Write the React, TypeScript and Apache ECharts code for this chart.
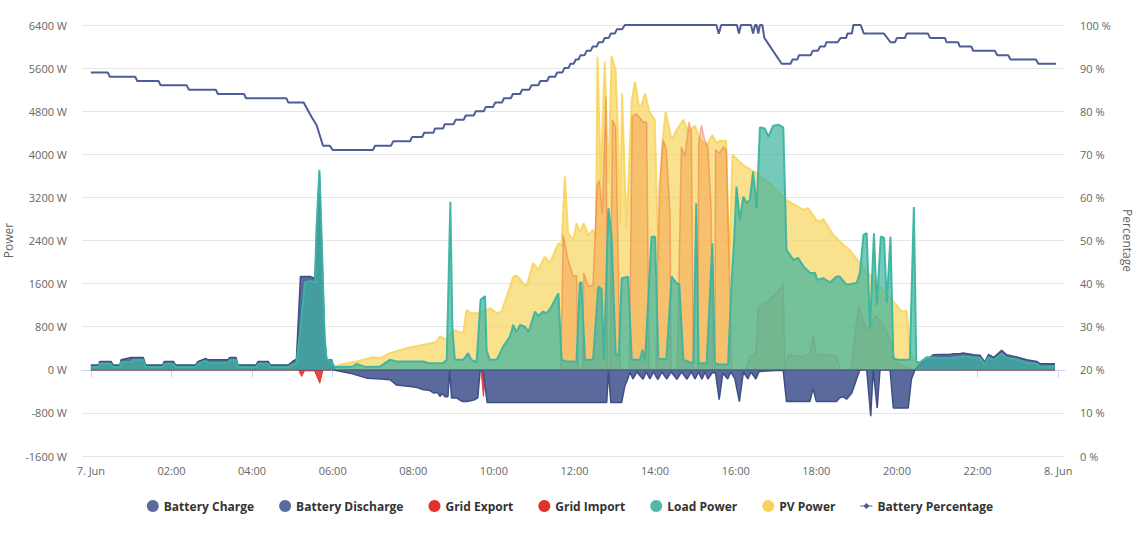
import React, { useEffect, useRef } from "react";
import * as echarts from "echarts";

type P = [number, number];

// x values are hours after 7. Jun 00:00
const xTickHours: number[] = [0, 2, 4, 6, 8, 10, 12, 14, 16, 18, 20, 22, 24];

const batteryDischarge: P[] = [
  [0, 90], [0.2, 90], [0.22, 155], [0.5, 155], [0.55, 90], [0.72, 90], [0.75, 185], [1.0, 230], [1.3, 230],
  [1.36, 90], [1.78, 90], [1.82, 155], [2.05, 155], [2.1, 90], [2.6, 90], [2.65, 150], [2.85, 210], [2.9, 185],
  [3.4, 185], [3.45, 230], [3.6, 230], [3.65, 90], [4.1, 90], [4.15, 155], [4.4, 155], [4.45, 90], [4.9, 90],
  [5.0, 155], [5.1, 200], [5.2, 1730], [5.45, 1730], [5.56, 1700], [5.67, 3650], [5.8, 600], [5.85, 185],
  [5.97, 185], [6.05, 0], [20.45, 0], [20.57, 110], [20.74, 185], [20.9, 280], [21.07, 285], [21.32, 285],
  [21.4, 300], [21.56, 300], [21.64, 310], [21.9, 280], [22.06, 270], [22.18, 140], [22.27, 285], [22.4, 230],
  [22.6, 360], [22.72, 280], [22.97, 240], [23.22, 185], [23.47, 155], [23.55, 110], [23.92, 110],
];

const batteryCharge: P[] = [
  [0, 0], [6.0, 0], [6.43, -62], [6.84, -155], [7.2, -170], [7.42, -185], [7.58, -280], [7.92, -310], [8.1, -330],
  [8.25, -370], [8.4, -380], [8.5, -430], [8.6, -420], [8.66, -495], [8.72, -440], [8.79, -500], [8.86, -500],
  [8.9, 0], [8.95, -525], [9.08, -525], [9.15, -560], [9.23, -590], [9.33, -590], [9.5, -560], [9.6, -520],
  [9.66, 0], [9.74, -40], [9.83, -605], [12.8, -605], [12.84, -20], [12.9, -605], [13.17, -605], [13.25, -300],
  [13.33, -150], [13.38, -40], [13.45, -170], [13.55, -40], [13.7, -175], [13.78, -40], [13.87, -170],
  [13.96, -40], [14.07, -180], [14.17, -40], [14.29, -170], [14.4, -40], [14.54, -175], [14.66, -40],
  [14.79, -175], [14.9, -40], [14.99, -170], [15.08, -40], [15.16, -175], [15.24, -40], [15.31, -170],
  [15.42, -50], [15.5, -60], [15.59, -555], [15.68, -60], [15.8, -170], [15.88, -40], [15.98, -170],
  [16.09, -590], [16.19, -40], [16.3, -170], [16.38, -40], [16.5, -170], [16.58, -30], [17.1, -10],
  [17.18, -20], [17.26, -590], [17.84, -590], [17.92, -350], [18.0, -590], [18.5, -590], [18.58, -520],
  [18.66, -500], [18.75, -545], [18.88, -430], [19.0, -170], [19.08, 0], [19.25, 0], [19.35, -860], [19.41, 0],
  [19.51, -710], [19.58, 0], [19.83, 0], [19.91, -710], [20.28, -710], [20.36, -170], [20.45, 0], [23.92, 0],
];

const gridExport: P[] = [
  [0, 0], [11.66, 0], [11.72, 2505], [11.84, 2040], [11.97, 1730], [12.05, 1750], [12.09, 0], [12.2, 0],
  [12.23, 1795], [12.34, 1545], [12.46, 1580], [12.56, 3430], [12.62, 3520], [12.69, 2900], [12.78, 5070],
  [12.82, 0], [12.88, 0], [12.94, 4640], [13.02, 4510], [13.08, 2300], [13.13, 0], [13.36, 0], [13.43, 4700],
  [13.52, 4750], [13.6, 4700], [13.7, 4600], [13.79, 4600], [13.85, 0], [14.02, 0], [14.1, 3400], [14.2, 4270],
  [14.28, 4080], [14.37, 2905], [14.4, 0], [14.55, 0], [14.65, 4140], [14.74, 3960], [14.82, 4450],
  [14.84, 4600], [14.9, 4400], [14.95, 0], [15.06, 0], [15.08, 4200], [15.15, 4540], [15.23, 4270],
  [15.31, 4140], [15.39, 3000], [15.43, 0], [15.48, 0], [15.5, 4080], [15.6, 4020], [15.69, 4140],
  [15.77, 4080], [15.84, 1920], [15.9, 0], [16.25, 0], [16.35, 250], [16.5, 300], [16.56, 1175], [16.76, 1250],
  [17.01, 1420], [17.18, 1580], [17.22, 0], [17.3, 280], [17.6, 250], [17.85, 300], [17.93, 650], [18.0, 280],
  [18.3, 280], [18.5, 250], [18.6, 0], [18.85, 0], [18.95, 600], [19.05, 1175], [19.17, 900], [19.3, 700],
  [19.45, 1000], [19.6, 900], [19.75, 700], [19.85, 500], [19.95, 150], [20.2, 50], [20.4, 0], [23.92, 0],
];

const gridImport: P[] = [
  [0, 0], [5.15, 0], [5.23, -125], [5.3, -20], [5.55, -20], [5.68, -250], [5.76, 0], [9.68, 0], [9.74, -495],
  [9.8, 0], [23.92, 0],
];

const loadPower: P[] = [
  [0, 50], [0.2, 50], [0.22, 110], [0.5, 110], [0.55, 50], [0.72, 50], [0.75, 140], [1.0, 150], [1.05, 180],
  [1.3, 180], [1.36, 50], [1.78, 50], [1.82, 110], [2.05, 110], [2.1, 50], [2.6, 50], [2.65, 110], [2.85, 170],
  [2.9, 130], [3.4, 130], [3.45, 180], [3.6, 180], [3.65, 50], [4.1, 50], [4.15, 110], [4.4, 110], [4.45, 50],
  [4.9, 50], [5.0, 90], [5.1, 120], [5.19, 680], [5.31, 1620], [5.45, 1650], [5.56, 1620], [5.6, 2660],
  [5.67, 3710], [5.72, 2600], [5.8, 600], [5.85, 185], [5.93, 185], [6.05, 50], [6.5, 60], [6.59, 110],
  [6.84, 50], [7.17, 60], [7.42, 185], [7.58, 155], [8.25, 155], [8.41, 120], [8.74, 125], [8.83, 185],
  [8.92, 3120], [8.97, 780], [9.03, 185], [9.24, 185], [9.36, 310], [9.44, 185], [9.57, 140], [9.67, 1300],
  [9.78, 1370], [9.82, 350], [9.9, 185], [10.07, 185], [10.23, 430], [10.4, 620], [10.48, 835], [10.56, 700],
  [10.65, 835], [10.77, 800], [10.86, 705], [11.02, 1080], [11.1, 1000], [11.22, 1080], [11.31, 1050],
  [11.43, 1175], [11.6, 1420], [11.68, 185], [11.8, 155], [12.05, 155], [12.13, 1610], [12.17, 1630],
  [12.26, 185], [12.46, 185], [12.59, 1545], [12.67, 1500], [12.73, 185], [12.84, 3000], [12.92, 2470],
  [13.02, 310], [13.1, 250], [13.17, 1700], [13.33, 1730], [13.42, 185], [13.62, 185], [13.69, 370],
  [13.75, 160], [13.91, 2470], [14.0, 2470], [14.08, 200], [14.28, 200], [14.41, 1730], [14.53, 1610],
  [14.6, 1580], [14.7, 185], [14.95, 120], [15.02, 3090], [15.08, 120], [15.28, 120], [15.42, 2350],
  [15.48, 120], [15.6, 100], [15.81, 100], [15.9, 1670], [15.96, 2410], [16.02, 3400], [16.1, 2780],
  [16.19, 3215], [16.27, 3100], [16.35, 3150], [16.43, 3680], [16.48, 3300], [16.52, 3000], [16.6, 4500],
  [16.72, 4480], [16.81, 4330], [16.93, 4530], [17.06, 4550], [17.18, 4500], [17.26, 2225], [17.43, 2040],
  [17.55, 2075], [17.68, 1920], [17.85, 1795], [17.97, 1795], [18.02, 1670], [18.18, 1700], [18.34, 1620],
  [18.5, 1730], [18.58, 1730], [18.75, 1580], [19.0, 1610], [19.08, 1795], [19.17, 2505], [19.25, 2535],
  [19.33, 770], [19.43, 2535], [19.5, 1205], [19.6, 2475], [19.68, 2450], [19.75, 1240], [19.84, 2475],
  [19.91, 215], [20.03, 185], [20.32, 185], [20.42, 3020], [20.48, 150], [20.57, 135], [20.74, 235],
  [20.9, 230], [21.07, 215], [21.32, 220], [21.56, 240], [21.64, 250], [21.9, 230], [22.06, 220],
  [22.18, 100], [22.27, 230], [22.4, 180], [22.6, 300], [22.72, 220], [22.97, 190], [23.22, 130],
  [23.47, 110], [23.55, 60], [23.92, 60],
];

const pvPower: P[] = [
  [0, 0], [5.9, 0], [6.0, 50], [6.26, 110], [6.59, 155], [7.0, 235], [7.17, 215], [7.42, 310], [7.83, 400],
  [8.0, 430], [8.25, 465], [8.41, 490], [8.58, 525], [8.66, 620], [8.83, 560], [8.99, 740], [9.24, 680],
  [9.32, 1110], [9.44, 1050], [9.57, 1050], [9.82, 1110], [9.9, 1145], [10.07, 1050], [10.19, 1080],
  [10.36, 1450], [10.48, 1730], [10.56, 1750], [10.81, 1545], [10.97, 1980], [11.1, 1860], [11.26, 2100],
  [11.39, 1980], [11.6, 2350], [11.68, 2300], [11.76, 3585], [11.84, 2535], [11.97, 2410], [12.05, 2720],
  [12.13, 2560], [12.23, 2720], [12.34, 2500], [12.46, 2595], [12.53, 2450], [12.57, 5810], [12.65, 3520],
  [12.75, 5720], [12.84, 3460], [12.92, 5825], [13.02, 5565], [13.08, 4400], [13.13, 2720], [13.18, 5130],
  [13.29, 2600], [13.42, 5000], [13.5, 5350], [13.6, 4880], [13.66, 4900], [13.75, 5130], [13.86, 4790],
  [13.99, 4640], [14.08, 2040], [14.17, 4100], [14.26, 4790], [14.41, 4270], [14.53, 4450], [14.7, 4640],
  [14.82, 4430], [14.99, 4530], [15.11, 4270], [15.28, 4170], [15.42, 4360], [15.52, 4200], [15.6, 4250],
  [15.76, 4250], [15.84, 1920], [15.92, 3990], [16.18, 3800], [16.52, 3650], [16.85, 3460], [17.26, 3150],
  [17.68, 2970], [17.8, 3000], [18.0, 2780], [18.09, 2750], [18.17, 2800], [18.42, 2500], [18.67, 2320],
  [18.83, 2225], [19.08, 1980], [19.5, 1610], [19.91, 1270], [20.12, 1080], [20.24, 1100], [20.32, 430],
  [20.37, 215], [20.5, 120], [20.8, 70], [21.2, 30], [21.6, 10], [22, 0], [23.92, 0],
];

const batteryPercentage: P[] = [
  [0, 89], [0.42, 89], [0.47, 88], [1.1, 88], [1.15, 87], [1.68, 87], [1.73, 86], [2.38, 86], [2.43, 85],
  [3.1, 85], [3.15, 84], [3.8, 84], [3.85, 83], [4.85, 83], [4.9, 82], [5.28, 82], [5.48, 78.6], [5.6, 76.8],
  [5.76, 72], [5.93, 72], [6.0, 71], [7.0, 71], [7.05, 72], [7.45, 72], [7.5, 73], [7.92, 73], [7.97, 74],
  [8.22, 74], [8.27, 75], [8.5, 75], [8.54, 76], [8.74, 76], [8.78, 77], [9.0, 77], [9.05, 78], [9.25, 78],
  [9.3, 79], [9.5, 79], [9.55, 80], [9.75, 80], [9.8, 81], [9.98, 81], [10.03, 82], [10.2, 82], [10.25, 83],
  [10.42, 83], [10.47, 84], [10.65, 84], [10.7, 85], [10.88, 85], [10.93, 86], [11.1, 86], [11.15, 87],
  [11.32, 87], [11.37, 88], [11.52, 88], [11.57, 89], [11.7, 89], [11.75, 90], [11.85, 90], [11.9, 91],
  [11.98, 91], [12.03, 92], [12.1, 92], [12.15, 93], [12.25, 93], [12.3, 94], [12.4, 94], [12.45, 95],
  [12.55, 95], [12.6, 96], [12.7, 96], [12.75, 97], [12.85, 97], [12.9, 98], [13.0, 98], [13.05, 99],
  [13.18, 99], [13.25, 100], [15.52, 100], [15.58, 98], [15.64, 100], [16.03, 100], [16.08, 98], [16.13, 100],
  [16.38, 100], [16.43, 98], [16.48, 100], [16.52, 100], [16.56, 98], [16.6, 100], [16.66, 100], [16.71, 97],
  [17.14, 91], [17.36, 91], [17.41, 92], [17.53, 92], [17.57, 93], [17.86, 93], [17.91, 94], [18.04, 94],
  [18.09, 95], [18.21, 95], [18.25, 96], [18.53, 96], [18.6, 97], [18.74, 97], [18.77, 98], [18.88, 98],
  [18.92, 100], [19.1, 100], [19.18, 98], [19.68, 98], [19.84, 96], [19.95, 96], [20.0, 97], [20.2, 97],
  [20.24, 98], [20.77, 98], [20.82, 97], [21.19, 97], [21.23, 96], [21.52, 96], [21.56, 95], [21.85, 95],
  [21.89, 94], [22.43, 94], [22.49, 93], [22.76, 93], [22.82, 92], [23.45, 92], [23.51, 91], [23.95, 91],
];

const FONT = "'Open Sans', 'Noto Sans', sans-serif";
const LINE_ICON =
  "path://M0,3.4 L4.6,3.4 L8,0 L11.4,3.4 L16,3.4 L16,4.6 L11.4,4.6 L8,8 L4.6,4.6 L0,4.6 Z";

function pad(n: number) {
  return n < 10 ? "0" + n : "" + n;
}

export default function App() {
  const ref = useRef<HTMLDivElement>(null);

  useEffect(() => {
    document.body.style.margin = "0";
    if (!ref.current) return;
    const chart = echarts.init(ref.current, undefined, { renderer: "svg" });

    const areaSeries = (
      name: string,
      data: P[],
      color: string,
      lineColor: string,
      areaColor: string,
      lineWidth: number,
      z: number
    ) => ({
      name,
      type: "line",
      data,
      yAxisIndex: 0,
      showSymbol: false,
      symbol: "none",
      z,
      itemStyle: { color },
      lineStyle: { color: lineColor, width: lineWidth },
      areaStyle: { color: areaColor, opacity: 1 },
    });

    chart.setOption({
      animation: false,
      textStyle: { fontFamily: FONT },
      grid: {
        left: 82,
        right: 75,
        top: 25,
        bottom: 77,
        containLabel: false,
        outerBoundsMode: "none",
      },
      legend: {
        top: 495,
        left: "center",
        itemWidth: 12,
        itemHeight: 12,
        itemGap: 25,
        textStyle: { fontFamily: FONT, fontWeight: "bold", fontSize: 12, color: "#333333" },
        data: [
          { name: "Battery Charge", icon: "circle" },
          { name: "Battery Discharge", icon: "circle" },
          { name: "Grid Export", icon: "circle" },
          { name: "Grid Import", icon: "circle" },
          { name: "Load Power", icon: "circle" },
          { name: "PV Power", icon: "circle" },
          { name: "Battery Percentage", icon: LINE_ICON, itemStyle: { color: "#4a5a94" } },
        ],
      },
      xAxis: {
        type: "value",
        min: -0.22,
        max: 24.17,
        splitLine: { show: false },
        axisLine: { show: true, lineStyle: { color: "#ccd6eb", width: 1 } },
        axisTick: { show: true, length: 8, customValues: xTickHours, lineStyle: { color: "#ccd6eb" } },
        axisLabel: {
          customValues: xTickHours,
          margin: 9,
          color: "#666666",
          fontSize: 11,
          fontFamily: FONT,
          formatter: (v: number) => {
            if (v === 0) return "7. Jun";
            if (v === 24) return "8. Jun";
            return pad(Math.round(v)) + ":00";
          },
        },
      },
      yAxis: [
        {
          type: "value",
          min: -1600,
          max: 6400,
          interval: 800,
          name: "Power",
          nameLocation: "middle",
          nameRotate: 90,
          nameGap: 64,
          nameTextStyle: { color: "#666666", fontSize: 12, fontFamily: FONT },
          axisLine: { show: false },
          axisTick: { show: false },
          splitLine: { show: true, lineStyle: { color: "#e6e6e6", width: 1 } },
          axisLabel: {
            margin: 15,
            color: "#666666",
            fontSize: 11,
            fontFamily: FONT,
            formatter: (v: number) => v + " W",
          },
        },
        {
          type: "value",
          min: 0,
          max: 100,
          interval: 10,
          name: "Percentage",
          nameLocation: "middle",
          nameRotate: -90,
          nameGap: 52,
          nameTextStyle: { color: "#666666", fontSize: 12, fontFamily: FONT },
          axisLine: { show: false },
          axisTick: { show: false },
          splitLine: { show: false },
          axisLabel: {
            margin: 15,
            color: "#666666",
            fontSize: 11,
            fontFamily: FONT,
            formatter: (v: number) => v + " %",
          },
        },
      ],
      series: [
        areaSeries("PV Power", pvPower, "#f7d35c", "rgba(247,211,88,0.85)", "rgba(247,211,88,0.68)", 2, 1),
        areaSeries("Grid Import", gridImport, "#e3322b", "rgba(227,50,43,0.9)", "rgba(227,50,43,0.9)", 1, 2),
        areaSeries("Grid Export", gridExport, "#e3322b", "rgba(232,100,50,0.42)", "rgba(240,140,55,0.38)", 1.5, 3),
        areaSeries("Battery Charge", batteryCharge, "#5b6a9c", "#3f4e85", "#5b6a9c", 1.5, 4),
        areaSeries("Battery Discharge", batteryDischarge, "#5b6a9c", "#3f4e85", "#5b6a9c", 1.5, 5),
        areaSeries("Load Power", loadPower, "#4fb9a5", "rgba(60,180,160,0.95)", "rgba(58,180,160,0.7)", 2, 6),
        {
          name: "Battery Percentage",
          type: "line",
          yAxisIndex: 1,
          data: batteryPercentage,
          showSymbol: false,
          symbol: "diamond",
          z: 7,
          itemStyle: { color: "#4a5a94" },
          lineStyle: { color: "#4e5d97", width: 2 },
        },
      ],
    });

    return () => {
      chart.dispose();
    };
  }, []);

  return <div ref={ref} style={{ width: 1140, height: 533 }} />;
}
